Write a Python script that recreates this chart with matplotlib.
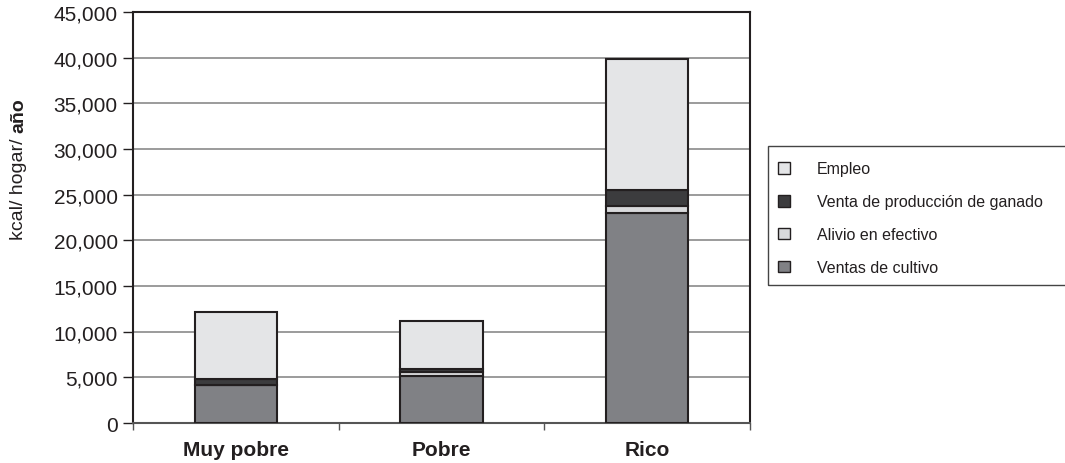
import numpy as np
import matplotlib
matplotlib.use("Agg")
import matplotlib.pyplot as plt
from matplotlib.patches import Rectangle

plt.rcParams['font.family'] = ['Liberation Sans', 'DejaVu Sans']

# kcal per household per year, by income group
groups = ['Muy pobre', 'Pobre', 'Rico']
ventas_cultivo = [4150, 5200, 23000]
alivio_efectivo = [0, 350, 800]
venta_ganado = [700, 380, 1700]
empleo = [7350, 5200, 14350]

series = [
    ('Ventas de cultivo', ventas_cultivo, '#808185'),
    ('Alivio en efectivo', alivio_efectivo, '#d8d9db'),
    ('Venta de producción de ganado', venta_ganado, '#3c3c3e'),
    ('Empleo', empleo, '#e4e5e7'),
]

fig = plt.figure(figsize=(10.65, 4.64), dpi=100)
ax = fig.add_axes([133 / 1065, 1 - 424 / 464, 617 / 1065, 411 / 464])

x = np.arange(len(groups))
bottom = np.zeros(len(groups))
handles = []
for name, vals, col in series:
    vals = np.array(vals, dtype=float)
    b = ax.bar(x, vals, width=0.4, bottom=bottom, color=col,
               edgecolor='#231f20', linewidth=1.5, label=name, zorder=3)
    handles.append(b)
    bottom += vals

ax.set_xlim(-0.5, 2.5)
ax.set_ylim(0, 45000)
ax.set_yticks(np.arange(0, 45001, 5000))
ax.set_yticklabels([f'{v:,}' for v in range(0, 45001, 5000)], fontsize=15, color='#231f20')
ax.yaxis.grid(True, color='#8a8a8a', linewidth=1.2, zorder=0)
ax.set_axisbelow(True)

ax.set_xticks(x)
ax.set_xticklabels(groups, fontsize=15, fontweight='bold', color='#231f20')
ax.tick_params(axis='x', which='major', length=0, pad=12)
ax.set_xticks([-0.5, 0.5, 1.5, 2.5], minor=True)
ax.tick_params(axis='x', which='minor', length=5, width=1, color='#555555')
ax.tick_params(axis='y', length=7, width=1, color='#231f20', pad=4)

for side in ['left', 'right', 'top', 'bottom']:
    ax.spines[side].set_color('#231f20')
    ax.spines[side].set_linewidth(1.5)
ax.spines['bottom'].set_color('#555555')

# y label with the last word in bold
t1 = fig.text(19 / 1065, 1 - 240 / 464, 'kcal/ hogar/ ', rotation=90,
              ha='center', va='bottom', fontsize=14, color='#231f20')
ax.annotate('año', xy=(0.5, 1.0), xycoords=t1, rotation=90, ha='center',
            va='bottom', fontsize=14, fontweight='bold', color='#231f20',
            annotation_clip=False)

# legend in reverse stacking order, with an open-ended frame
leg = fig.legend(handles[::-1], [s[0] for s in series[::-1]],
                 loc='upper left', bbox_to_anchor=(772 / 1065, 1 - 156 / 464),
                 frameon=False, fontsize=11.5, handlelength=0.75,
                 handleheight=0.75, handletextpad=1.65, labelspacing=1.12,
                 borderpad=0.4, borderaxespad=0)
for t in leg.get_texts():
    t.set_color('#231f20')
for h in leg.legend_handles:
    h.set_linewidth(1.0)
fig.patches.append(Rectangle((768 / 1065, 1 - 286 / 464), 310 / 1065, 139 / 464,
                             transform=fig.transFigure, fill=False,
                             edgecolor='#444444', linewidth=1.0))

fig.savefig('out.png', dpi=100)
